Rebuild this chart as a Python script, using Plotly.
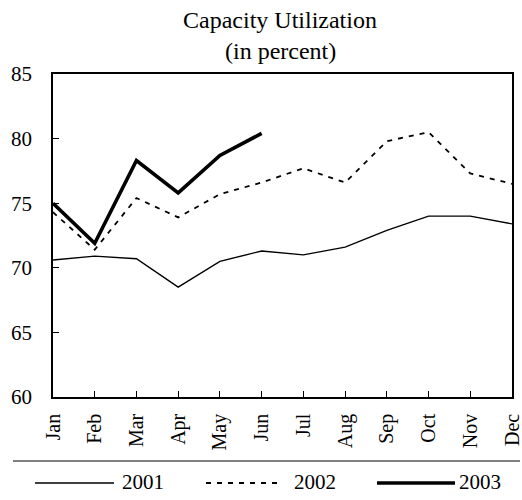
import plotly.graph_objects as go

months = ["Jan", "Feb", "Mar", "Apr", "May", "Jun", "Jul", "Aug", "Sep", "Oct", "Nov", "Dec"]
series_names = ["2001", "2002", "2003"]
util_2001 = [70.6, 70.9, 70.7, 68.5, 70.5, 71.3, 71.0, 71.6, 72.9, 74.0, 74.0, 73.4]
util_2002 = [74.3, 71.4, 75.4, 73.9, 75.7, 76.6, 77.7, 76.6, 79.8, 80.5, 77.3, 76.5]
util_2003 = [75.0, 71.9, 78.3, 75.8, 78.7, 80.4]
y_ticks = [60, 65, 70, 75, 80, 85]

FONT = "Liberation Serif, Times New Roman, serif"
styles = [
    dict(color="black", width=1.4, dash="solid"),
    dict(color="black", width=1.8, dash="5px,6px"),
    dict(color="black", width=3.6, dash="solid"),
]

fig = go.Figure()
for name, vals, st in zip(series_names, [util_2001, util_2002, util_2003], styles):
    fig.add_trace(go.Scatter(x=months[:len(vals)], y=vals, mode="lines", name=name,
                             line=st, showlegend=False, cliponaxis=False))

# custom legend below the chart (pixel-based layout, paper coords)
L, R, T, B = 53, 10, 74, 103
W, H = 522 - L - R, 500 - T - B
def px(x):
    return (x - L) / W
def py(y):
    return 1 - (y - T) / H

shapes = [dict(type="line", xref="paper", yref="paper", x0=px(13), x1=px(520),
               y0=py(461), y1=py(461), line=dict(color="black", width=1))]
annotations = []
leg = [(35, 114, 120), (206, 283, 292), (377, 455, 457)]
for (x0, x1, tx), name, st in zip(leg, series_names, styles):
    shapes.append(dict(type="line", xref="paper", yref="paper", x0=px(x0), x1=px(x1),
                       y0=py(483), y1=py(483), line=st))
    annotations.append(dict(text=name, xref="paper", yref="paper", x=px(tx), y=py(482),
                            xanchor="left", yanchor="middle", showarrow=False,
                            font=dict(family=FONT, size=21, color="black")))

annotations.append(dict(text="Capacity Utilization", xref="paper", yref="paper", x=px(280), y=py(20),
                        xanchor="center", yanchor="middle", showarrow=False,
                        font=dict(family=FONT, size=24, color="black")))
annotations.append(dict(text="(in percent)", xref="paper", yref="paper", x=px(280), y=py(51),
                        xanchor="center", yanchor="middle", showarrow=False,
                        font=dict(family=FONT, size=24, color="black")))

fig.update_layout(
    width=522, height=500,
    margin=dict(l=L, r=R, t=T, b=B, autoexpand=False),
    paper_bgcolor="white", plot_bgcolor="white",
    font=dict(family=FONT, size=20, color="black"),
    shapes=shapes, annotations=annotations,
    xaxis=dict(type="category", categoryarray=months, range=[0, 11], showgrid=False,
               automargin=False,
               showline=True, linecolor="black", linewidth=1.5, mirror=True,
               ticks="inside", ticklen=6, tickcolor="black", tickangle=-90,
               ticklabelstandoff=7, tickfont=dict(family=FONT, size=20)),
    yaxis=dict(range=[60, 85], tickvals=y_ticks, showgrid=False, zeroline=False,
               automargin=False,
               showline=True, linecolor="black", linewidth=1.5, mirror=True,
               ticks="inside", ticklen=6, tickcolor="black", ticklabelstandoff=15,
               tickfont=dict(family=FONT, size=21)),
)
fig.write_html("out.html", config={"displayModeBar": False},
               post_script="document.body.style.margin='0';")
